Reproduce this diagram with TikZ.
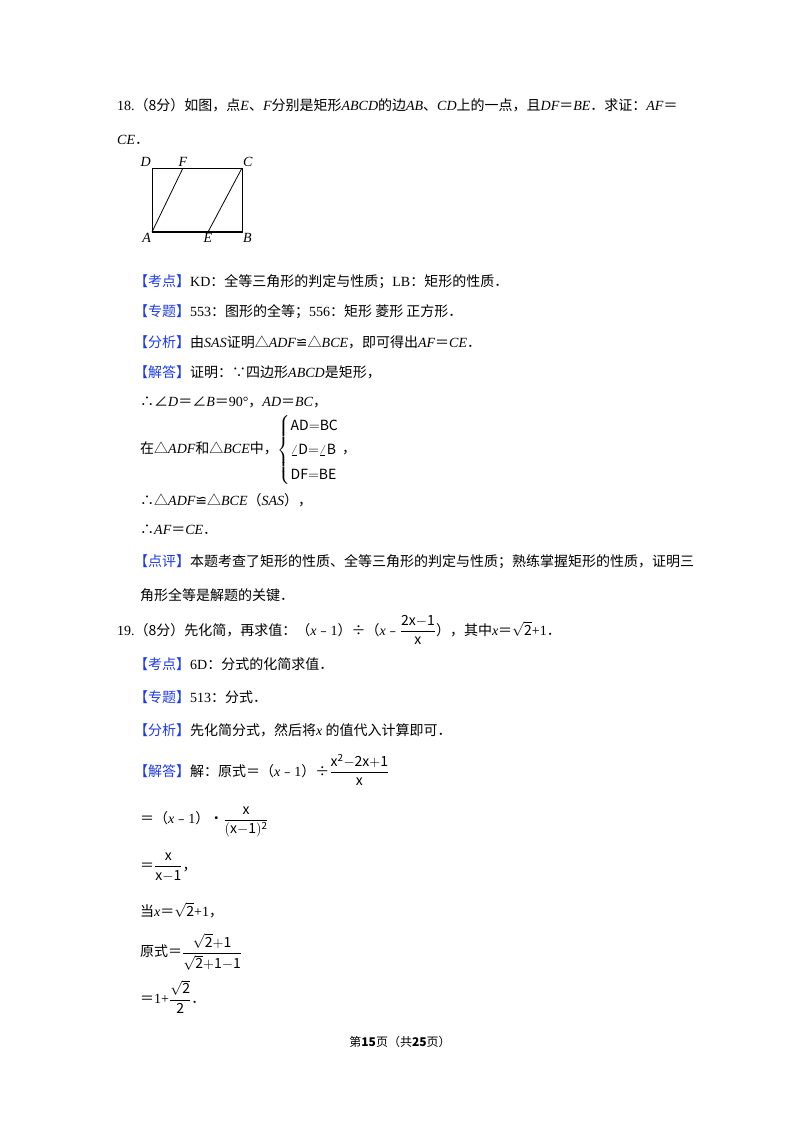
\documentclass[tikz,border=0pt]{standalone}
\usepackage{amsmath}
\usepackage{fontspec}
\setmainfont{Noto Sans CJK SC}
\newfontfamily\lat{Liberation Serif}
\newfontfamily\dvs{DejaVu Sans}
\newcommand\LI[1]{{\lat\itshape #1}}
\newcommand\LR[1]{{\lat #1}}
\definecolor{kblue}{RGB}{30,60,230}
\newcommand\KB[1]{{\color{kblue}【#1】}}
\begin{document}
\begin{tikzpicture}[x=1pt,y=-1pt,
  tx/.style={anchor=west,inner sep=0pt,font=\fontsize{14}{17}\selectfont},
  lab/.style={inner sep=1pt,font=\lat\itshape\fontsize{14}{16}\selectfont},
  edge/.style={line width=0.8pt}]
\useasboundingbox (0,0) rectangle (800,1132);
\node[tx] (l1) at (117,105) {\LR{18.}（8分）如图，点\LI{E}、\LI{F}分别是矩形\LI{ABCD}的边\LI{AB}、\LI{CD}上的一点，且\LI{DF}＝\LI{BE}．求证：\LI{AF}＝};
\node[tx] (l2) at (117,140) {\LI{CE}．};
% diagram
\coordinate (D) at (152,168); \coordinate (F) at (183,168); \coordinate (C) at (242,168);
\coordinate (A) at (152,232); \coordinate (E) at (208,232); \coordinate (B) at (242,232);
\draw[line width=0.6pt] (A) rectangle (C);
\draw[line width=1.1pt] (A) -- (B);
\draw[edge] (A) -- (F) (E) -- (C);
\node[lab,anchor=south east] (lD) at (D) {D};
\node[lab,anchor=south] (lF) at (F) {F};
\node[lab,anchor=south west] (lC) at (C) {C};
\node[lab,anchor=north east] (lA) at (A) {A};
\node[lab,anchor=north] (lE) at (E) {E};
\node[lab,anchor=north west] (lB) at (B) {B};
% solution 18
\node[tx] (a1) at (134,282) {\KB{考点}\LR{KD}：全等三角形的判定与性质；\LR{LB}：矩形的性质．};
\node[tx] (a2) at (134,312) {\KB{专题}\LR{553}：图形的全等；\LR{556}：矩形 菱形 正方形．};
\node[tx] (a3) at (134,342) {\KB{分析}由\LI{SAS}证明△\LI{ADF}{\dvs ≌}△\LI{BCE}，即可得出\LI{AF}＝\LI{CE}．};
\node[tx] (a4) at (134,372) {\KB{解答}证明：∵四边形\LI{ABCD}是矩形，};
\node[tx] (a5) at (140,402) {∴∠\LI{D}＝∠\LI{B}＝\LR{90°}，\LI{AD}＝\LI{BC}，};
\node[tx] (a6) at (140,450) {在△\LI{ADF}和△\LI{BCE}中，{\renewcommand\arraystretch{1.45}$\left\{\begin{array}{@{}l@{}}\mathrm{AD{=}BC}\\ \angle\mathrm{D}{=}\angle\mathrm{B}\\ \mathrm{DF{=}BE}\end{array}\right.$} ，};
\node[tx] (a7) at (140,500) {∴△\LI{ADF}{\dvs ≌}△\LI{BCE}（\LI{SAS}），};
\node[tx] (a8) at (140,530) {∴\LI{AF}＝\LI{CE}．};
\node[tx] (a9) at (134,562) {\KB{点评}本题考查了矩形的性质、全等三角形的判定与性质；熟练掌握矩形的性质，证明三};
\node[tx] (a10) at (140,595) {角形全等是解题的关键．};
% 19
\node[tx] (b1) at (117,630) {\LR{19.}（8分）先化简，再求值：（\LI{x}﹣\LR{1}）÷（\LI{x}﹣$\dfrac{\mathrm{2x{-}1}}{\mathrm{x}}$），其中\LI{x}＝$\sqrt{\mathrm{2}}$\LR{+1}．};
\node[tx] (b2) at (134,664) {\KB{考点}\LR{6D}：分式的化简求值．};
\node[tx] (b3) at (134,697) {\KB{专题}\LR{513}：分式．};
\node[tx] (b4) at (134,730) {\KB{分析}先化简分式，然后将\LI{x} 的值代入计算即可．};
\node[tx] (b5) at (134,770) {\KB{解答}解：原式＝（\LI{x}﹣\LR{1}）÷$\dfrac{\mathrm{x^2{-}2x{+}1}}{\mathrm{x}}$};
\node[tx] (b6) at (140,822) {＝（\LI{x}﹣\LR{1}）•$\dfrac{\mathrm{x}}{\mathrm{(x{-}1)^2}}$};
\node[tx] (b7) at (140,867) {＝$\dfrac{\mathrm{x}}{\mathrm{x{-}1}}$，};
\node[tx] (b8) at (140,910) {当\LI{x}＝$\sqrt{\mathrm{2}}$\LR{+1}，};
\node[tx] (b9) at (140,952) {原式＝$\dfrac{\sqrt{\mathrm{2}}\mathrm{{+}1}}{\sqrt{\mathrm{2}}\mathrm{{+}1{-}1}}$};
\node[tx] (b10) at (140,997) {＝\LR{1+}$\dfrac{\sqrt{\mathrm{2}}}{\mathrm{2}}$．};
\node[tx,anchor=center,font=\fontsize{12}{14}\selectfont] (ft) at (400,1042) {第\textbf{15}页（共\textbf{25}页）};
\end{tikzpicture}
\end{document}
